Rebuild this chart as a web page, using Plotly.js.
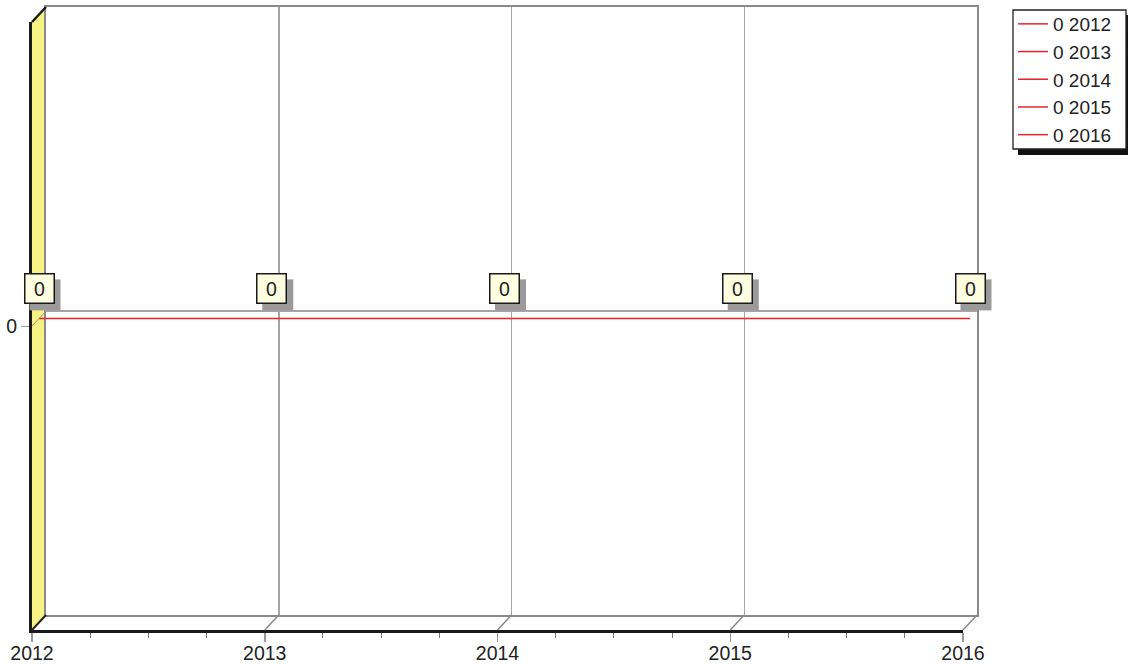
<!DOCTYPE html>
<html>
<head>
<meta charset="utf-8">
<script src="https://cdn.plot.ly/plotly-3.0.1.min.js"></script>
<style>html,body{margin:0;padding:0;background:#fff;}#chart{width:1128px;height:664px;}</style>
</head>
<body>
<div id="chart"></div>
<script>
// ---- data ----
const years = [2012, 2013, 2014, 2015, 2016];
const values = [0, 0, 0, 0, 0];
const yTickVals = [0];
const yTickText = ['0'];
const xTickText = ['2012', '2013', '2014', '2015', '2016'];

// ---- geometry (pixels) ----
const W = 1128, H = 664;
const FL = 32, FR = 963, FT = 22, FB = 630; // front plane
const DX = 14, DY = 15;                        // depth offset
const px = x => x / W;
const py = y => 1 - y / H;
const RED = '#e8232b';
const FONT = 'Liberation Sans, Arial, sans-serif';
const yMin = -1, yMax = 1;

const traces = [];
traces.push({x: [], y: [], xaxis: 'x', yaxis: 'y', showlegend: false, hoverinfo: 'skip'});
traces.push({x: [], y: [], xaxis: 'x2', yaxis: 'y2', showlegend: false, hoverinfo: 'skip'});
// main line (mid depth)
traces.push({
  x: years, y: values, xaxis: 'x3', yaxis: 'y3', mode: 'lines',
  line: {color: RED, width: 1.5}, showlegend: false, hoverinfo: 'skip', cliponaxis: false
});
// legend entries
years.forEach((yr, i) => {
  traces.push({
    x: [yr], y: [values[i]], xaxis: 'x3', yaxis: 'y3', mode: 'lines',
    name: values[i] + ' ' + yr, line: {color: RED, width: 1.5}, hoverinfo: 'skip'
  });
});

const xmin = years[0], xmax = years[years.length - 1];
const shapes = [];
// left (yellow) wall
shapes.push({
  type: 'path', xref: 'paper', yref: 'paper', layer: 'below',
  path: `M${px(FL)},${py(FT)} L${px(FL + DX)},${py(FT - DY)} L${px(FL + DX)},${py(FB - DY)} L${px(FL)},${py(FB)} Z`,
  fillcolor: '#f6f283', line: {width: 0}
});
// top-left edge
shapes.push({type: 'line', xref: 'paper', yref: 'paper', x0: px(FL), y0: py(FT), x1: px(FL + DX), y1: py(FT - DY),
  line: {color: '#1a1a1a', width: 2.5}});
// floor diagonals at each year
years.forEach((yr, i) => {
  const fx = FL + (yr - xmin) / (xmax - xmin) * (FR - FL);
  shapes.push({type: 'line', xref: 'paper', yref: 'paper', x0: px(fx), y0: py(FB), x1: px(fx + DX), y1: py(FB - DY),
    line: {color: i === 0 ? '#222' : '#8a8a8a', width: i === 0 ? 2 : 1.5}});
});
// zero connector from front tick to back wall
const zf = FT + (FB - FT) / 2;
shapes.push({type: 'line', xref: 'paper', yref: 'paper', x0: px(FL), y0: py(zf), x1: px(FL + DX), y1: py(zf - DY),
  line: {color: '#9a9a9a', width: 1}});
// legend shadow and frame
shapes.push({type: 'rect', xref: 'paper', yref: 'paper', x0: px(1018), y0: py(15), x1: px(1131), y1: py(155),
  fillcolor: '#111', line: {width: 0}, layer: 'above'});
shapes.push({type: 'rect', xref: 'paper', yref: 'paper', x0: px(1013), y0: py(10), x1: px(1126), y1: py(149),
  fillcolor: '#fff', line: {color: '#222', width: 1.3}, layer: 'above'});

const annotations = [];
const LBL_SHIFT = 29.6, SH = 6, HALF = 15.5;
years.forEach((yr, i) => {
  // label shadow (pixel-sized rect anchored at the data point)
  shapes.push({
    type: 'rect', layer: 'above',
    xref: 'x3 domain', xsizemode: 'pixel', xanchor: (yr - xmin) / (xmax - xmin),
    x0: -HALF + SH, x1: HALF + SH,
    yref: 'y3 domain', ysizemode: 'pixel', yanchor: (values[i] - yMin) / (yMax - yMin),
    y0: LBL_SHIFT - SH - HALF, y1: LBL_SHIFT - SH + HALF,
    fillcolor: '#9a9a9a', line: {width: 0}
  });
  annotations.push({
    xref: 'x3', yref: 'y3', x: yr, y: values[i], text: String(values[i]), showarrow: false,
    xshift: 0, yshift: LBL_SHIFT, width: 26, height: 26, borderpad: 1, borderwidth: 1.5,
    bgcolor: '#fdfde0', bordercolor: '#1a1a1a', font: {family: FONT, size: 19.5, color: '#222'}
  });
});

const layout = {
  width: W, height: H,
  margin: {l: 0, r: 0, t: 0, b: 0, pad: 0},
  paper_bgcolor: '#fff', plot_bgcolor: 'rgba(0,0,0,0)',
  font: {family: FONT, color: '#222', size: 19.5},
  showlegend: true,
  legend: {
    x: px(1013), y: py(5), xanchor: 'left', yanchor: 'top',
    bgcolor: 'rgba(0,0,0,0)', borderwidth: 0,
    font: {family: FONT, size: 19, color: '#222'}, tracegroupgap: 0
  },
  xaxis: {
    domain: [px(FL), px(FR)], range: [xmin, xmax], anchor: 'y',
    tickmode: 'array', tickvals: years, ticktext: xTickText,
    ticks: 'outside', ticklen: 9, tickwidth: 1.5, tickcolor: '#999',
    ticklabelstandoff: -5,
    minor: {tickmode: 'linear', tick0: xmin, dtick: 0.25, ticks: 'outside', ticklen: 5, tickwidth: 1, tickcolor: '#777', showgrid: false},
    showline: true, linecolor: '#1a1a1a', linewidth: 3,
    showgrid: false, zeroline: false, fixedrange: true,
    tickfont: {family: FONT, size: 19.5, color: '#222'}
  },
  yaxis: {
    domain: [py(FB), py(FT)], range: [yMin, yMax], anchor: 'x',
    tickmode: 'array', tickvals: yTickVals, ticktext: yTickText,
    ticks: 'outside', ticklen: 8, tickwidth: 1, tickcolor: '#999',
    showline: true, linecolor: '#1a1a1a', linewidth: 3,
    showgrid: false, zeroline: false, fixedrange: true,
    tickfont: {family: FONT, size: 19.5, color: '#222'}
  },
  xaxis2: {
    domain: [px(FL + DX), px(FR + DX)], range: [xmin, xmax], anchor: 'y2',
    tickmode: 'array', tickvals: years, showticklabels: false, ticks: '',
    showgrid: true, gridcolor: '#a5a5a5', gridwidth: 1.5,
    showline: true, mirror: true, linecolor: '#8a8a8a', linewidth: 2,
    zeroline: false, fixedrange: true
  },
  yaxis2: {
    domain: [py(FB - DY), py(FT - DY)], range: [yMin, yMax], anchor: 'x2',
    tickmode: 'array', tickvals: yTickVals, showticklabels: false, ticks: '',
    showgrid: false, zeroline: true, zerolinecolor: '#a5a5a5', zerolinewidth: 1.5,
    showline: true, mirror: true, linecolor: '#8a8a8a', linewidth: 2, fixedrange: true
  },
  xaxis3: {domain: [px(FL + DX / 2), px(FR + DX / 2)], range: [xmin, xmax], anchor: 'y3', visible: false, fixedrange: true},
  yaxis3: {domain: [py(FB - DY / 2), py(FT - DY / 2)], range: [yMin, yMax], anchor: 'x3', visible: false, fixedrange: true},
  shapes: shapes,
  annotations: annotations
};

Plotly.newPlot('chart', traces, layout, {staticPlot: true, displayModeBar: false});
</script>
</body>
</html>
